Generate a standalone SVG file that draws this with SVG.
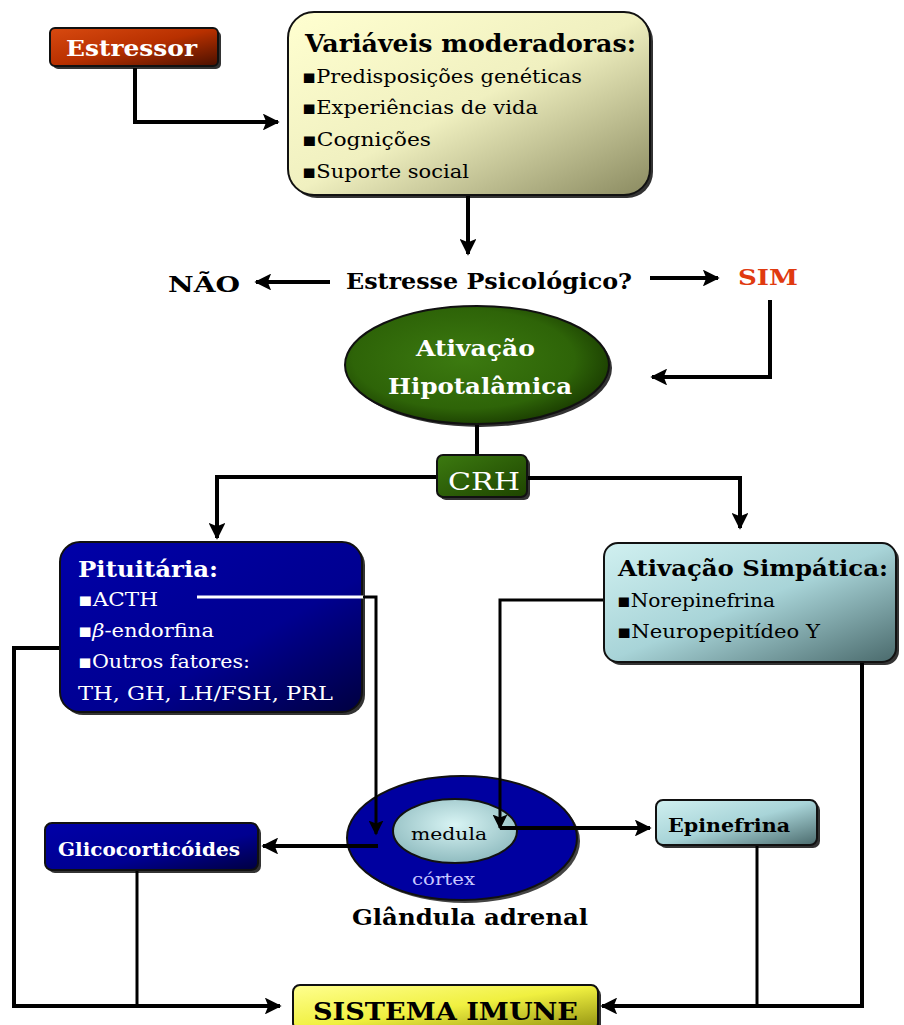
<svg xmlns="http://www.w3.org/2000/svg" width="904" height="1025" viewBox="0 0 904 1025">
<defs>
<linearGradient id="gRed" x1="0" y1="0" x2="1" y2="1"><stop offset="0" stop-color="#d84a10"/><stop offset="0.5" stop-color="#b83000"/><stop offset="1" stop-color="#4a1000"/></linearGradient>
<linearGradient id="gYel" x1="0" y1="0" x2="1" y2="1"><stop offset="0" stop-color="#ffffd0"/><stop offset="0.5" stop-color="#f0f0c0"/><stop offset="1" stop-color="#8a8a60"/></linearGradient>
<radialGradient id="gGreen" cx="0.45" cy="0.45" r="0.6"><stop offset="0" stop-color="#3c7a10"/><stop offset="0.7" stop-color="#2e6408"/><stop offset="1" stop-color="#183800"/></radialGradient>
<linearGradient id="gCrh" x1="0" y1="0" x2="1" y2="1"><stop offset="0" stop-color="#3c7a10"/><stop offset="1" stop-color="#1e4400"/></linearGradient>
<linearGradient id="gBlue" x1="0" y1="0" x2="1" y2="1"><stop offset="0" stop-color="#0000a8"/><stop offset="0.6" stop-color="#000090"/><stop offset="1" stop-color="#000040"/></linearGradient>
<linearGradient id="gCyan" x1="0" y1="0" x2="1" y2="1"><stop offset="0" stop-color="#d0f0f0"/><stop offset="0.5" stop-color="#a8d4d8"/><stop offset="1" stop-color="#4a6a6c"/></linearGradient>
<radialGradient id="gMed" cx="0.5" cy="0.4" r="0.6"><stop offset="0" stop-color="#d8f4f4"/><stop offset="1" stop-color="#90bcc0"/></radialGradient>
<linearGradient id="gSys" x1="0" y1="0" x2="1" y2="1"><stop offset="0" stop-color="#ffff90"/><stop offset="0.5" stop-color="#f0f040"/><stop offset="1" stop-color="#909010"/></linearGradient>
<marker id="ah" viewBox="0 0 10 10" refX="9" refY="5" markerWidth="4.2" markerHeight="4.2" orient="auto" markerUnits="strokeWidth"><path d="M0,0 L10,5 L0,10 L2,5 Z" fill="#000"/></marker>
<marker id="ah2" viewBox="0 0 10 10" refX="9" refY="5" markerWidth="5" markerHeight="5" orient="auto" markerUnits="strokeWidth"><path d="M0,0 L10,5 L0,10 L2,5 Z" fill="#000"/></marker>
</defs>
<style>
.t{font-family:"DejaVu Serif","Liberation Serif",serif;}
.b{font-weight:bold;}
.w{fill:#fff;}
.k{fill:#000;}
.c{stroke:#000;stroke-width:4;fill:none;}
.c3{stroke:#000;stroke-width:3;fill:none;}
.sh{fill:#333;}
.bd{stroke:#111;stroke-width:2;}
</style>

<g id="estressor">
<rect x="53" y="31" width="168" height="38" rx="5" class="sh"/>
<rect x="50" y="28" width="168" height="38" rx="5" fill="url(#gRed)" class="bd"/>
<text x="66" y="56" class="t b w" font-size="22" textLength="131" lengthAdjust="spacingAndGlyphs">Estressor</text>
</g>

<g id="variaveis">
<rect x="291" y="15" width="362" height="183" rx="26" class="sh"/>
<rect x="288" y="12" width="362" height="183" rx="26" fill="url(#gYel)" class="bd"/>
<text x="305" y="52" class="t b k" font-size="24" textLength="331" lengthAdjust="spacingAndGlyphs">Variáveis moderadoras:</text>
<text x="302" y="83" class="t k" font-size="19" textLength="280" lengthAdjust="spacingAndGlyphs">▪Predisposições genéticas</text>
<text x="302" y="114" class="t k" font-size="19" textLength="236" lengthAdjust="spacingAndGlyphs">▪Experiências de vida</text>
<text x="302" y="146" class="t k" font-size="19" textLength="129" lengthAdjust="spacingAndGlyphs">▪Cognições</text>
<text x="302" y="178" class="t k" font-size="19" textLength="167" lengthAdjust="spacingAndGlyphs">▪Suporte social</text>
</g>

<g id="nao">
<text x="168" y="292" class="t b k" font-size="22" textLength="72" lengthAdjust="spacingAndGlyphs">NÃO</text>
</g>

<g id="estresse">
<text x="346" y="289" class="t b k" font-size="22" textLength="286" lengthAdjust="spacingAndGlyphs">Estresse Psicológico?</text>
</g>

<g id="sim">
<text x="738" y="285" class="t b" fill="#e03a10" font-size="22" textLength="60" lengthAdjust="spacingAndGlyphs">SIM</text>
</g>

<g id="hipotalamo">
<ellipse cx="480" cy="368" rx="132" ry="59" fill="#333"/>
<ellipse cx="477" cy="365" rx="132" ry="59" fill="url(#gGreen)" class="bd"/>
<text x="416" y="356" class="t b w" font-size="22" textLength="119" lengthAdjust="spacingAndGlyphs">Ativação</text>
<text x="388" y="394" class="t b w" font-size="22" textLength="184" lengthAdjust="spacingAndGlyphs">Hipotalâmica</text>
</g>

<g id="crh">
<rect x="440" y="458" width="90" height="42" rx="6" class="sh"/>
<rect x="437" y="455" width="90" height="42" rx="6" fill="url(#gCrh)" class="bd"/>
<text x="448" y="490" class="t w" font-size="24" textLength="72" lengthAdjust="spacingAndGlyphs">CRH</text>
</g>

<g id="pituitaria">
<rect x="63" y="545" width="302" height="170" rx="20" class="sh"/>
<rect x="60" y="542" width="302" height="170" rx="20" fill="url(#gBlue)" class="bd"/>
<text x="78" y="577" class="t b w" font-size="22" textLength="140" lengthAdjust="spacingAndGlyphs">Pituitária:</text>
<text x="78" y="606" class="t w" font-size="19" textLength="80" lengthAdjust="spacingAndGlyphs">▪ACTH</text>
<line x1="197" y1="597" x2="364" y2="597" stroke="#fff" stroke-width="3"/>
<text x="78" y="637" class="t w" font-size="19" textLength="136" lengthAdjust="spacingAndGlyphs">▪<tspan font-style="italic">β</tspan>-endorfina</text>
<text x="78" y="668" class="t w" font-size="19" textLength="172" lengthAdjust="spacingAndGlyphs">▪Outros fatores:</text>
<text x="78" y="700" class="t w" font-size="19" textLength="255" lengthAdjust="spacingAndGlyphs">TH, GH, LH/FSH, PRL</text>
</g>

<g id="simpatica">
<rect x="607" y="546" width="292" height="119" rx="14" class="sh"/>
<rect x="604" y="543" width="292" height="119" rx="14" fill="url(#gCyan)" class="bd"/>
<text x="618" y="576" class="t b k" font-size="22" textLength="270" lengthAdjust="spacingAndGlyphs">Ativação Simpática:</text>
<text x="617" y="607" class="t k" font-size="19" textLength="158" lengthAdjust="spacingAndGlyphs">▪Norepinefrina</text>
<text x="617" y="638" class="t k" font-size="19" textLength="203" lengthAdjust="spacingAndGlyphs">▪Neuropepitídeo Y</text>
</g>

<g id="adrenal">
<ellipse cx="465" cy="841" rx="115" ry="62" fill="#444"/>
<ellipse cx="462" cy="838" rx="115" ry="62" fill="#0000a0" stroke="#111" stroke-width="2"/>
<ellipse cx="455" cy="831" rx="62" ry="32" fill="url(#gMed)" stroke="#111" stroke-width="2"/>
<text x="411" y="840" class="t k" font-size="17" textLength="76" lengthAdjust="spacingAndGlyphs">medula</text>
<text x="412" y="885" class="t" fill="#c8c8ff" font-size="17" textLength="63" lengthAdjust="spacingAndGlyphs">córtex</text>
<text x="352" y="925" class="t b k" font-size="22" textLength="236" lengthAdjust="spacingAndGlyphs">Glândula adrenal</text>
</g>

<g id="glicocorticoides">
<rect x="48" y="826" width="213" height="47" rx="7" class="sh"/>
<rect x="45" y="823" width="213" height="47" rx="7" fill="url(#gBlue)" class="bd"/>
<text x="58" y="856" class="t b w" font-size="19" textLength="182" lengthAdjust="spacingAndGlyphs">Glicocorticóides</text>
</g>

<g id="epinefrina">
<rect x="659" y="803" width="161" height="45" rx="7" class="sh"/>
<rect x="656" y="800" width="161" height="45" rx="7" fill="url(#gCyan)" class="bd"/>
<text x="668" y="832" class="t b k" font-size="19" textLength="122" lengthAdjust="spacingAndGlyphs">Epinefrina</text>
</g>

<g id="sistema-imune">
<rect x="296" y="988" width="305" height="45" rx="7" class="sh"/>
<rect x="293" y="985" width="305" height="45" rx="7" fill="url(#gSys)" class="bd"/>
<text x="313" y="1020" class="t b k" font-size="24" textLength="265" lengthAdjust="spacingAndGlyphs">SISTEMA IMUNE</text>
</g>

<g id="connectors">
<path class="c" d="M135,68 V122 H278" marker-end="url(#ah)"/>
<path class="c" d="M468,196 V254" marker-end="url(#ah)"/>
<path class="c" d="M330,282 H256" marker-end="url(#ah)"/>
<path class="c" d="M650,278 H718" marker-end="url(#ah)"/>
<path class="c" d="M770,300 V377 H652" marker-end="url(#ah)"/>
<path class="c" d="M477,425 V454"/>
<path class="c" d="M436,477 H217 V538" marker-end="url(#ah)"/>
<path class="c" d="M528,478 H740 V528" marker-end="url(#ah)"/>
<path class="c3" d="M363,597 H376 V834" marker-end="url(#ah2)"/>
<path class="c" d="M59,648 H14 V1006 H280" marker-end="url(#ah)"/>
<path class="c3" d="M603,600 H500 V828" marker-end="url(#ah2)"/>
<path class="c" d="M862,663 V1006 H602" marker-end="url(#ah)"/>
<path class="c" d="M378,846 H263" marker-end="url(#ah)"/>
<path class="c" d="M500,828 H650" marker-end="url(#ah)"/>
<path class="c3" d="M137,871 V1006"/>
<path class="c3" d="M757,846 V1006"/>
</g>
</svg>
